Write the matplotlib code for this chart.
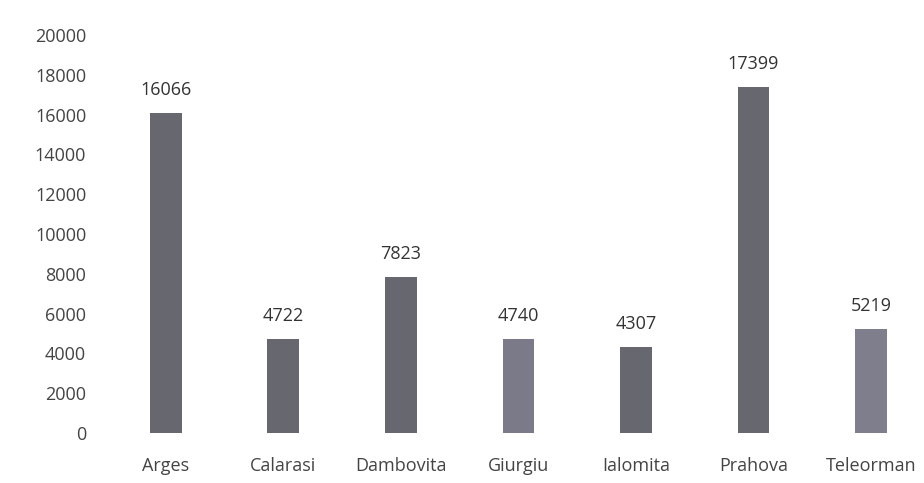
import matplotlib.pyplot as plt

plt.rcParams['font.family'] = ['Open Sans', 'DejaVu Sans']

# judete
counties = ['Arges', 'Calarasi', 'Dambovita', 'Giurgiu', 'Ialomita', 'Prahova', 'Teleorman']
values = [16066, 4722, 7823, 4740, 4307, 17399, 5219]
bar_colors = ['#67676f', '#67676f', '#67676f', '#7b7a88', '#67676f', '#67676f', '#7f7e8c']
yticks = list(range(0, 20001, 2000))

fig = plt.figure(figsize=(9.24, 4.83), dpi=100)
ax = fig.add_axes([107 / 924, 50 / 483, 817 / 924, 398 / 483])

x = list(range(len(counties)))
bars = ax.bar(x, values, width=0.27, color=bar_colors)

# value labels above bars
for xi, v in zip(x, values):
    ax.text(xi, v + 700, str(v), ha='center', va='bottom', fontsize=13, color='#333333')

ax.set_xlim(-0.5, 6.45)
ax.set_ylim(0, 20000)
ax.set_yticks(yticks)
ax.set_yticklabels([str(t) for t in yticks])
ax.set_xticks(x)
ax.set_xticklabels(counties)

for s in ax.spines.values():
    s.set_visible(False)
ax.tick_params(axis='both', length=0, labelsize=13, colors='#444444')
ax.tick_params(axis='y', pad=15)
ax.tick_params(axis='x', pad=17)

plt.savefig('out.png', dpi=100)
